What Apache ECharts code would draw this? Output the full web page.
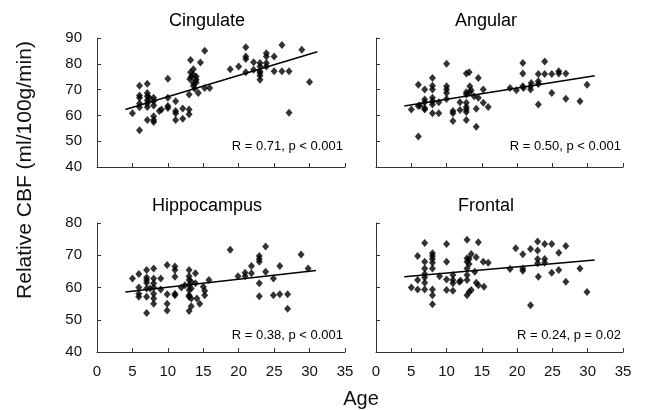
<!DOCTYPE html>
<html>
<head>
<meta charset="utf-8">
<script src="https://cdn.jsdelivr.net/npm/echarts@6/dist/echarts.min.js"></script>
<style>
  html, body { margin: 0; padding: 0; background: #fff; }
  #chart { width: 645px; height: 410px; }
</style>
</head>
<body>
<div id="chart"></div>
<script>
// panel titles + stats text
var titles = ['Cingulate', 'Angular', 'Hippocampus', 'Frontal'];
var stats = ['R = 0.71, p < 0.001', 'R = 0.50, p < 0.001', 'R = 0.38, p < 0.001', 'R = 0.24, p = 0.02'];
var xTicks = [0, 5, 10, 15, 20, 25, 30, 35];

// [age, CBF]
var cingulate = [
  [5.0,60.8],[6.0,71.5],[6.0,67.7],[6.0,66.8],[6.0,64.6],[6.0,63.2],[6.0,54.2],
  [7.1,72.3],[7.1,68.7],[7.1,67.4],[7.1,65.9],[7.1,64.6],[7.1,63.3],[7.1,58.2],
  [7.4,66.8],[8.0,66.8],[8.0,65.5],[8.0,63.8],[8.0,59.7],[8.0,57.4],[8.0,58.2],
  [8.8,61.7],[9.1,62.3],[10.0,74.2],[10.0,66.8],[10.0,63.6],[10.0,62.9],
  [11.1,65.5],[11.1,61.7],[11.1,60.8],[11.1,58.2],[12.1,62.7],[12.1,58.7],
  [13.0,62.3],[13.0,60.4],[13.0,68.1],[13.1,74.1],[13.2,81.5],[13.2,76.7],
  [13.3,75.1],[13.6,77.9],[13.6,75.8],[13.6,72.6],[13.6,71.5],[13.8,70.3],
  [14.0,75.1],[14.0,73.8],[14.0,72.8],[14.3,68.7],[14.6,80.5],[15.2,85.1],
  [15.2,70.6],[15.9,70.6],[18.8,77.9],[20.0,79.0],[21.0,86.4],[21.0,82.8],
  [21.0,81.9],[21.0,76.7],[22.1,80.6],[22.1,77.7],[23.0,80.3],[23.0,79.0],
  [23.0,77.1],[23.0,76.4],[23.0,75.4],[23.0,73.8],[23.9,84.1],[23.9,82.8],
  [23.9,80.3],[23.9,79.0],[25.0,82.8],[25.0,77.1],[26.1,87.3],[26.1,77.1],
  [27.1,77.1],[27.1,61.0],[28.9,85.4],[30.0,72.9]
];
var angular = [
  [5.0,62.3],[6.0,71.9],[6.0,63.6],[6.0,51.8],[6.2,63.8],[6.9,70.0],[6.9,66.2],
  [6.9,65.1],[6.9,62.9],[6.9,62.3],[8.0,74.5],[8.0,71.5],[8.0,70.0],[8.0,66.8],
  [8.0,65.5],[8.0,64.2],[8.0,60.8],[8.9,65.1],[8.9,60.8],[10.0,80.0],[10.0,71.3],
  [10.0,70.0],[10.0,68.7],[10.0,66.4],[10.9,61.7],[10.9,60.8],[10.9,57.8],
  [11.9,65.1],[11.9,62.1],[12.8,76.2],[12.8,69.0],[12.8,68.1],[12.8,64.9],
  [12.8,63.3],[12.8,62.3],[12.8,61.3],[12.8,58.2],[13.2,76.7],[13.3,71.3],
  [13.3,69.0],[13.5,69.7],[13.9,67.4],[14.2,62.6],[14.2,55.6],[14.5,74.5],
  [14.5,66.8],[15.2,70.0],[15.2,64.9],[15.9,63.3],[19.0,70.6],[19.9,69.7],
  [20.8,80.3],[20.8,76.2],[20.8,71.3],[20.9,70.6],[21.9,71.3],[21.9,70.0],
  [22.0,72.6],[23.0,76.0],[23.0,73.2],[23.0,72.2],[23.0,64.2],[23.9,80.9],
  [23.9,76.0],[24.9,76.0],[24.9,68.7],[25.9,77.1],[25.9,76.2],[26.9,76.2],
  [26.9,66.5],[28.9,65.5],[29.9,71.9]
];
var hippocampus = [
  [5.0,62.8],[5.9,64.2],[5.9,60.0],[5.9,58.1],[5.9,57.1],[7.0,65.4],[7.0,63.1],
  [7.0,62.3],[7.0,61.5],[7.0,59.7],[7.0,57.1],[7.0,52.1],[7.5,59.7],[8.0,65.9],
  [8.0,62.8],[8.0,61.3],[8.0,60.0],[8.0,58.1],[8.0,56.6],[8.0,55.0],[9.0,62.8],
  [9.0,59.4],[9.9,67.0],[9.9,57.9],[9.9,55.0],[9.9,52.9],[11.0,66.5],[11.0,65.4],
  [11.0,63.3],[11.0,58.1],[11.0,57.6],[11.9,60.0],[12.4,60.7],[13.0,65.4],
  [13.0,63.5],[13.0,62.3],[13.0,60.7],[13.0,59.2],[13.0,57.6],[13.0,57.1],
  [13.0,52.7],[13.3,61.8],[13.3,59.7],[13.3,56.6],[13.3,54.2],[13.9,64.4],
  [13.9,61.3],[14.1,56.6],[14.5,55.0],[15.0,60.2],[15.2,59.0],[15.2,57.6],
  [15.8,62.3],[18.8,71.7],[19.9,63.5],[20.9,64.6],[20.9,63.5],[21.8,66.7],
  [21.8,64.4],[22.9,69.8],[22.9,68.8],[22.9,68.0],[22.9,61.3],[22.9,57.3],
  [23.8,72.7],[23.8,64.9],[24.9,62.8],[24.9,57.6],[25.8,66.7],[25.8,57.9],
  [26.9,57.9],[26.9,53.4],[28.8,70.2],[29.8,65.9]
];
var frontal = [
  [5.0,60.0],[5.9,69.8],[5.9,62.3],[5.9,59.4],[6.9,73.8],[6.9,68.0],[6.9,65.9],
  [6.9,64.2],[6.9,63.1],[6.9,61.5],[6.9,59.4],[8.0,70.6],[8.0,69.8],[8.0,68.8],
  [8.0,67.7],[8.0,65.9],[8.0,59.4],[8.0,57.6],[8.0,54.8],[9.0,63.5],[10.0,73.5],
  [10.0,68.0],[10.0,62.5],[10.0,59.2],[10.9,63.9],[10.9,62.3],[10.9,61.3],
  [10.9,59.0],[11.8,61.8],[12.0,62.1],[12.9,74.8],[12.9,69.1],[12.9,68.0],
  [12.9,65.9],[12.9,63.9],[12.9,62.3],[12.9,57.6],[13.2,68.8],[13.2,67.3],
  [13.2,58.6],[13.5,70.4],[13.5,59.2],[14.0,64.9],[14.2,69.4],[14.2,61.5],
  [14.5,74.0],[14.5,60.7],[15.2,68.0],[15.3,60.2],[15.9,67.7],[19.0,65.7],
  [19.8,72.2],[20.8,70.3],[20.8,65.9],[20.8,65.2],[21.9,71.9],[21.9,54.5],
  [22.9,74.3],[22.9,71.5],[22.9,68.8],[22.9,67.5],[23.0,63.3],[23.9,73.5],
  [23.9,68.8],[23.9,67.7],[24.9,73.5],[24.9,64.6],[25.9,70.8],[25.9,65.4],
  [26.9,72.9],[26.9,61.8],[28.9,65.9],[29.9,58.6]
];

// regression line end points [age, CBF]
var fitCingulate = [[4.0, 62.3], [31.1, 84.7]];
var fitAngular = [[4.0, 63.6], [31.0, 75.4]];
var fitHippocampus = [[4.0, 58.6], [30.9, 65.3]];
var fitFrontal = [[4.0, 63.3], [31.0, 68.5]];

var FONT = '"Liberation Sans", Arial, sans-serif';
var myChart = echarts.init(document.getElementById('chart'));

var grids = [
  { left: 97, top: 38, width: 248, height: 129 },
  { left: 376, top: 38, width: 247, height: 129 },
  { left: 97, top: 223, width: 248, height: 129 },
  { left: 376, top: 223, width: 247, height: 129 }
];
var yMax = [90, 90, 80, 80];
var points = [cingulate, angular, hippocampus, frontal];
var fits = [fitCingulate, fitAngular, fitHippocampus, fitFrontal];

var axisLine = { lineStyle: { color: '#333', width: 1 } };
var xAxes = [], yAxes = [], series = [], graphics = [];

grids.forEach(function (g, i) {
  var bottomRow = i >= 2, leftCol = i % 2 === 0;
  xAxes.push({
    gridIndex: i, type: 'value', min: 0, max: 35, interval: 5,
    axisLine: axisLine,
    axisTick: { inside: true, length: 4, lineStyle: { color: '#333' } },
    axisLabel: { show: bottomRow, margin: 12, color: '#111', fontSize: 15, fontFamily: FONT,
      formatter: function (v) { return xTicks.indexOf(v) >= 0 ? v : ''; } },
    splitLine: { show: false }
  });
  yAxes.push({
    gridIndex: i, type: 'value', min: 40, max: yMax[i], interval: 10,
    axisLine: { show: true, lineStyle: { color: '#333', width: 1 } },
    axisTick: { show: true, inside: true, length: 4, lineStyle: { color: '#333' } },
    axisLabel: { show: leftCol, margin: 15, color: '#111', fontSize: 15, fontFamily: FONT },
    splitLine: { show: false }
  });
  series.push({
    type: 'scatter', xAxisIndex: i, yAxisIndex: i, data: points[i],
    symbol: 'diamond', symbolSize: [7, 8],
    itemStyle: { color: '#000' }, silent: true
  });
  series.push({
    type: 'line', xAxisIndex: i, yAxisIndex: i, data: fits[i],
    symbol: 'none', lineStyle: { color: '#000', width: 1.5 }, silent: true
  });
  graphics.push({
    type: 'text', x: g.left + (leftCol ? 110 : 110), y: g.top - 17,
    style: { text: titles[i], font: '18px ' + FONT, fill: '#000', align: 'center', verticalAlign: 'middle' }
  });
  graphics.push({
    type: 'text', x: g.left + g.width - 2, y: g.top + (bottomRow ? 112 : 108),
    style: { text: stats[i], font: '13px ' + FONT, fill: '#000', align: 'right', verticalAlign: 'middle' }
  });
});

graphics.push({
  type: 'text', x: 25, y: 170, rotation: Math.PI / 2,
  style: { text: 'Relative CBF (ml/100g/min)', font: '21px ' + FONT, fill: '#111', align: 'center', verticalAlign: 'middle' }
});
graphics.push({
  type: 'text', x: 361, y: 399,
  style: { text: 'Age', font: '20px ' + FONT, fill: '#111', align: 'center', verticalAlign: 'middle' }
});

var option = {
  backgroundColor: '#fff',
  animation: false,
  grid: grids,
  xAxis: xAxes,
  yAxis: yAxes,
  series: series,
  graphic: graphics
};
myChart.setOption(option);
</script>
</body>
</html>
